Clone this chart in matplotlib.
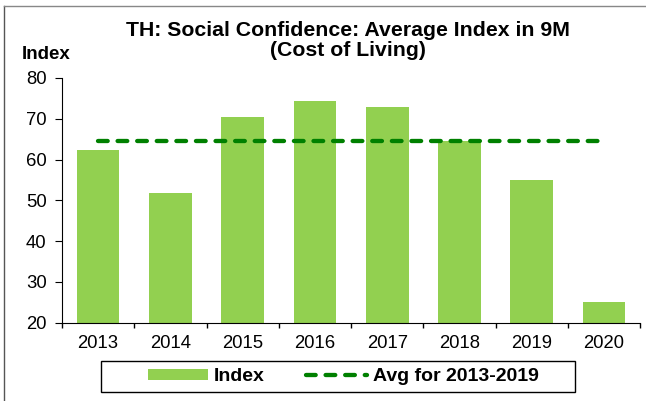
import numpy as np
import matplotlib.pyplot as plt
from matplotlib.lines import Line2D
from matplotlib.patches import Rectangle

plt.rcParams['font.family'] = ['Liberation Sans', 'DejaVu Sans']

years = ['2013', '2014', '2015', '2016', '2017', '2018', '2019', '2020']
index_vals = [62.4, 51.9, 70.5, 74.4, 72.9, 64.6, 55.0, 25.1]
avg_2013_2019 = 64.6

bar_color = '#92D050'
line_color = '#008000'

fig = plt.figure(figsize=(6.46, 4.01), dpi=100)
ax = fig.add_axes([0.096, 0.1955, 0.895, 0.61])

x = np.arange(len(years))
bars = ax.bar(x, index_vals, width=0.59, color=bar_color, label='Index', zorder=2)
avg_line, = ax.plot([0, 6.95], [avg_2013_2019] * 2, color=line_color, lw=3.1,
                    ls=(0, (2.25, 2.3)), dash_capstyle='round',
                    label='Avg for 2013-2019', zorder=3)

ax.set_ylim(20, 80)
ax.set_xlim(-0.5, 7.5)
ax.set_yticks(range(20, 81, 10))
ax.set_xticks(x)
ax.set_xticklabels(years)
ax.set_xticks(np.arange(-0.5, 8.0, 1), minor=True)
ax.tick_params(axis='x', which='major', length=0, labelsize=13.3, pad=9)
ax.tick_params(axis='x', which='minor', length=3.5, direction='out', width=1)
ax.tick_params(axis='y', length=5, direction='out', labelsize=13.3, pad=6)
for s in ['top', 'right']:
    ax.spines[s].set_visible(False)

fig.text(0.539, 0.925, 'TH: Social Confidence: Average Index in 9M', ha='center',
         va='center', fontsize=15.3, fontweight='bold')
fig.text(0.539, 0.874, '(Cost of Living)', ha='center', va='center',
         fontsize=15.3, fontweight='bold')
fig.text(0.034, 0.865, 'Index', ha='left', va='center', fontsize=13.5, fontweight='bold')

fig.legend([bars, avg_line], ['Index', 'Avg for 2013-2019'], loc='center',
           bbox_to_anchor=(0.531, 0.060), ncol=2, frameon=False,
           prop={'weight': 'bold', 'size': 14}, handlelength=3.1,
           handleheight=0.5, columnspacing=2.15, handletextpad=0.3)
# legend box drawn separately (wider side margins than legend padding allows)
fig.add_artist(Rectangle((101 / 646, 1 - 392 / 401), 474 / 646, 31 / 401,
                         transform=fig.transFigure, fill=False, edgecolor='black', lw=1))

# chart frame (left and top edges)
fig.add_artist(Line2D([0.0062, 0.0062], [0, 0.985], color='#555555', lw=1))
fig.add_artist(Line2D([0.0062, 1.0], [0.985, 0.985], color='#888888', lw=1))

fig.savefig('out.png', dpi=100)
